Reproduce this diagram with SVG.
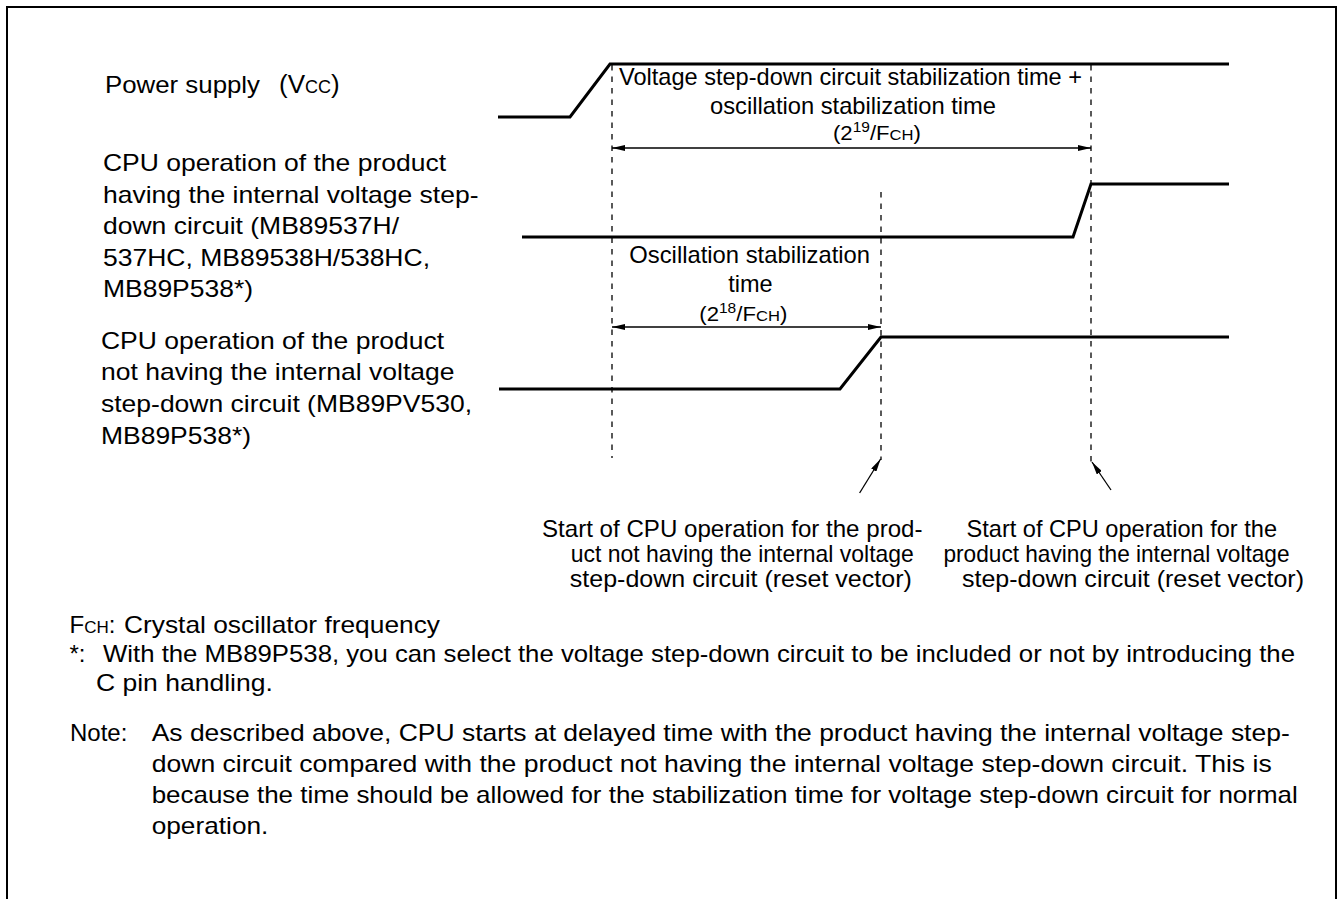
<svg xmlns="http://www.w3.org/2000/svg" width="1342" height="899" viewBox="0 0 1342 899">
<defs>
<marker id="ah" viewBox="0 0 13 6" refX="13" refY="3" markerWidth="13" markerHeight="6" markerUnits="userSpaceOnUse" orient="auto-start-reverse"><path d="M0,0 L13,3 L0,6 z" fill="#000"/></marker>
</defs>
<style>
text{font-family:"Liberation Sans",Arial,Helvetica,sans-serif;font-size:24px;fill:#000}
.sig{fill:none;stroke:#000;stroke-width:3;stroke-linejoin:miter}
.dash{fill:none;stroke:#000;stroke-width:1.3;stroke-dasharray:5.5 6}
.arr{fill:none;stroke:#000;stroke-width:1.3}
.frame{fill:none;stroke:#000;stroke-width:2}
.sm{font-size:20px}
.sc{font-size:15px}
.sup{font-size:14px}
</style>
<rect width="1342" height="899" fill="#fff"/>
<path class="frame" d="M7,899 V7 H1336 V899"/>

<g id="power-label">
<text x="105" y="93" textLength="155" lengthAdjust="spacingAndGlyphs">Power supply</text>
<text x="279" y="93" style="font-size:26px">(V<tspan style="font-size:18px">CC</tspan>)</text>
</g>

<g id="cpu1-label">
<text x="103" y="171" textLength="343" lengthAdjust="spacingAndGlyphs">CPU operation of the product</text>
<text x="103" y="202.5" textLength="375.5" lengthAdjust="spacingAndGlyphs">having the internal voltage step-</text>
<text x="103" y="234" textLength="296" lengthAdjust="spacingAndGlyphs">down circuit (MB89537H/</text>
<text x="103" y="265.5" textLength="327" lengthAdjust="spacingAndGlyphs">537HC, MB89538H/538HC,</text>
<text x="103" y="297" textLength="150" lengthAdjust="spacingAndGlyphs">MB89P538*)</text>
</g>

<g id="cpu2-label">
<text x="101" y="348.5" textLength="343" lengthAdjust="spacingAndGlyphs">CPU operation of the product</text>
<text x="101" y="380" textLength="353.5" lengthAdjust="spacingAndGlyphs">not having the internal voltage</text>
<text x="101" y="411.5" textLength="371" lengthAdjust="spacingAndGlyphs">step-down circuit (MB89PV530,</text>
<text x="101" y="443.5" textLength="150" lengthAdjust="spacingAndGlyphs">MB89P538*)</text>
</g>

<g id="power-signal">
<path class="sig" d="M498,117 H570 L610,64 H1229"/>
</g>
<g id="cpu1-signal">
<path class="sig" d="M522,237 H1073 L1091,184 H1229"/>
</g>
<g id="cpu2-signal">
<path class="sig" d="M499,389 H840 L881,337 H1229"/>
</g>

<g id="total-time-label">
<text x="619" y="85" textLength="463" lengthAdjust="spacingAndGlyphs">Voltage step-down circuit stabilization time +</text>
<text x="710" y="114" textLength="286" lengthAdjust="spacingAndGlyphs">oscillation stabilization time</text>
<text x="833" y="140" class="sm" textLength="88" lengthAdjust="spacingAndGlyphs">(2<tspan class="sup" dy="-8">19</tspan><tspan dy="8">/F</tspan><tspan class="sc">CH</tspan>)</text>
</g>

<g id="osc-time-label">
<text x="629.3" y="263.3" textLength="240.7" lengthAdjust="spacingAndGlyphs">Oscillation stabilization</text>
<text x="728.3" y="292.3" textLength="44.4" lengthAdjust="spacingAndGlyphs">time</text>
<text x="699.3" y="320.7" class="sm" textLength="88" lengthAdjust="spacingAndGlyphs">(2<tspan class="sup" dy="-8">18</tspan><tspan dy="8">/F</tspan><tspan class="sc">CH</tspan>)</text>
</g>

<g id="start-no-stepdown-label">
<text x="542" y="536.7" textLength="380.5" lengthAdjust="spacingAndGlyphs">Start of CPU operation for the prod-</text>
<text x="570.8" y="561.7" textLength="343" lengthAdjust="spacingAndGlyphs">uct not having the internal voltage</text>
<text x="569.8" y="586.7" textLength="342" lengthAdjust="spacingAndGlyphs">step-down circuit (reset vector)</text>
</g>

<g id="start-stepdown-label">
<text x="966.5" y="536.7" textLength="310.5" lengthAdjust="spacingAndGlyphs">Start of CPU operation for the</text>
<text x="943.5" y="561.7" textLength="346" lengthAdjust="spacingAndGlyphs">product having the internal voltage</text>
<text x="962" y="586.7" textLength="342" lengthAdjust="spacingAndGlyphs">step-down circuit (reset vector)</text>
</g>

<g id="notes">
<text x="69.5" y="633">F<tspan style="font-size:17px">CH</tspan>:</text>
<text x="124" y="633" textLength="316" lengthAdjust="spacingAndGlyphs">Crystal oscillator frequency</text>
<text x="69.5" y="662">*:</text>
<text x="103" y="662" textLength="1192" lengthAdjust="spacingAndGlyphs">With the MB89P538, you can select the voltage step-down circuit to be included or not by introducing the</text>
<text x="96" y="691" textLength="176.8" lengthAdjust="spacingAndGlyphs">C pin handling.</text>
<text x="70" y="741">Note:</text>
<text x="151.7" y="741" textLength="1138" lengthAdjust="spacingAndGlyphs">As described above, CPU starts at delayed time with the product having the internal voltage step-</text>
<text x="151.7" y="772" textLength="1120" lengthAdjust="spacingAndGlyphs">down circuit compared with the product not having the internal voltage step-down circuit. This is</text>
<text x="151.7" y="803" textLength="1146" lengthAdjust="spacingAndGlyphs">because the time should be allowed for the stabilization time for voltage step-down circuit for normal</text>
<text x="151.7" y="834" textLength="116.7" lengthAdjust="spacingAndGlyphs">operation.</text>
</g>

<g id="connectors">
<path class="dash" d="M612,65 V458"/>
<path class="dash" d="M881,192 V460"/>
<path class="dash" d="M1091,65 V462"/>
<path class="arr" d="M612,148 H1091" marker-start="url(#ah)" marker-end="url(#ah)"/>
<path class="arr" d="M612,327 H881" marker-start="url(#ah)" marker-end="url(#ah)"/>
<path class="arr" d="M859.6,493 L880.6,459" marker-end="url(#ah)"/>
<path class="arr" d="M1111,490 L1092,462" marker-end="url(#ah)"/>
</g>
</svg>
